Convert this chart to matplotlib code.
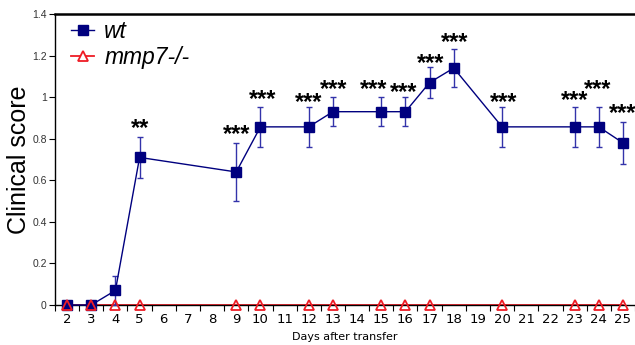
import matplotlib
matplotlib.use("Agg")
import matplotlib.pyplot as plt
from matplotlib.lines import Line2D
import numpy as np

# data
wt_days = [2, 3, 4, 5, 9, 10, 12, 13, 15, 16, 17, 18, 20, 23, 24, 25]
wt_score = [0, 0, 0.07, 0.71, 0.64, 0.857, 0.857, 0.93, 0.93, 0.93, 1.07, 1.14, 0.857, 0.857, 0.857, 0.78]
wt_err = [0, 0, 0.07, 0.10, 0.14, 0.095, 0.095, 0.07, 0.07, 0.07, 0.075, 0.09, 0.095, 0.095, 0.095, 0.10]

ko_days = [2, 3, 4, 5, 9, 10, 12, 13, 15, 16, 17, 20, 23, 24, 25]
ko_score = [0] * len(ko_days)

# significance marks, placed by hand in the original
star_text = ["**", "***", "***", "***", "***", "***", "***", "***", "***", "***", "***", "***", "***"]
star_x = [5.04, 9.01, 10.08, 12.01, 13.04, 14.68, 15.94, 17.06, 18.03, 20.06, 22.99, 23.97, 25.0]
star_y = [0.861, 0.833, 1.002, 0.990, 1.053, 1.050, 1.038, 1.178, 1.277, 0.989, 0.997, 1.050, 0.934]

day_ticks = list(range(2, 26))

blue = "#00007f"
red = "#ee1c25"

fig = plt.figure(figsize=(6.35, 3.45), dpi=100)
ax = fig.add_axes([55 / 635, 1 - 305 / 345, 1 - 55 / 635, 291 / 345])

# red line under, wt series, then hollow triangles on top
ax.plot(ko_days, ko_score, color=red, lw=1.3, zorder=2, clip_on=False)
ax.errorbar(wt_days, wt_score, yerr=wt_err, color=blue, ecolor="#3333aa",
            lw=1.0, elinewidth=1.0, capsize=2.5, marker="s", ms=7.5,
            mfc=blue, mec=blue, zorder=3, clip_on=False)
ax.plot(ko_days, ko_score, ls="none", marker="^", ms=7.5, mfc="none",
        mec=red, mew=1.3, zorder=4, clip_on=False)

for st, x, y in zip(star_text, star_x, star_y):
    ax.annotate(st, (x, y), xytext=(0, -6.8), textcoords="offset points",
                ha="center", va="baseline", fontsize=17, fontweight="bold",
                family="Liberation Sans", color="black")

ax.set_xlim(1.5, 25.5)
ax.set_ylim(0, 1.4)
ax.set_xticks(day_ticks)
ax.set_xticklabels([str(d) for d in day_ticks], family="DejaVu Sans", fontsize=9.5)
ax.set_xticks(np.arange(1.5, 26, 1), minor=True)
ax.tick_params(axis="x", which="major", length=0, pad=6)
ax.tick_params(axis="x", which="minor", length=4, direction="out", width=0.8)
ax.set_yticks(np.arange(0, 1.41, 0.2))
ax.set_yticklabels(["0", "0.2", "0.4", "0.6", "0.8", "1", "1.2", "1.4"],
                   family="Liberation Sans", fontsize=7.5, color="#333333")
ax.tick_params(axis="y", length=4, width=0.8, pad=2)

ax.spines["right"].set_visible(False)
ax.spines["top"].set_linewidth(1.8)
ax.spines["left"].set_linewidth(1.0)
ax.spines["bottom"].set_linewidth(1.0)

ax.set_xlabel("Days after transfer", family="DejaVu Sans", fontsize=8, labelpad=4)
ax.set_ylabel("Clinical score", family="Liberation Sans", fontsize=18, labelpad=1)

handles = [
    Line2D([], [], color=blue, lw=1.0, marker="s", ms=7.5, mfc=blue, mec=blue),
    Line2D([], [], color=red, lw=1.3, marker="^", ms=7.5, mfc="white", mec=red, mew=1.3),
]
ax.legend(handles, ["wt", "mmp7-/-"], loc="upper left", frameon=False,
          prop={"family": "Liberation Sans", "style": "italic", "size": 16.5},
          handlelength=1.0, handletextpad=0.45, labelspacing=0.12,
          bbox_to_anchor=(0.012, 1.01), borderaxespad=0.0)

fig.savefig("out.png", dpi=100)
